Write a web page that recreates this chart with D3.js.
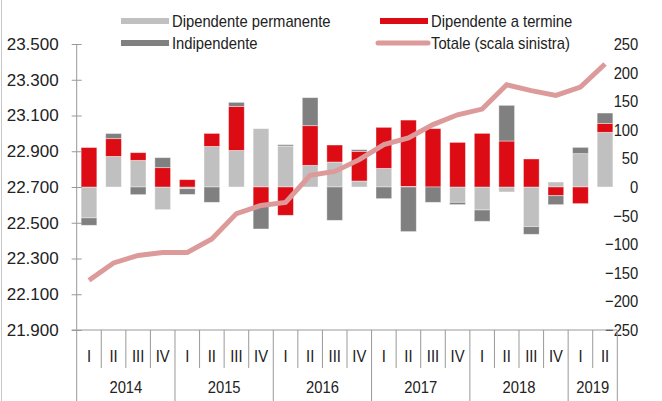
<!DOCTYPE html>
<html>
<head>
<meta charset="utf-8">
<script src="https://cdn.jsdelivr.net/npm/d3@7"></script>
<style>
  body { margin: 0; background: #fff; }
  svg text { font-family: "Liberation Sans", Arial, sans-serif; font-size: 17px; fill: #222; }
</style>
</head>
<body>
<svg class="figure" width="662" height="401"></svg>
<script>
// quarters 2014 I .. 2019 II
var quarters = ["I","II","III","IV","I","II","III","IV","I","II","III","IV","I","II","III","IV","I","II","III","IV","I","II"];
var years = ["2014","2015","2016","2017","2018","2019"];
var yearQuarters = [4, 4, 4, 4, 4, 2];

// contributions, right scale (thousands)
var permanente = [-54, 53.5, 46.6, -39.6, -3, 71, 64, 102, 71.7, 37.9, 43.7, 10.5, 32.6, 1, 0, -26.8, -40.2, -8.7, -69.3, 8.7, 58.3, 95.6];
var termine    = [69, 31, 13.4, 33.8, 12.8, 22.7, 77, -33.8, -49.5, 69.3, 29.7, 51.9, 71.7, 116, 102, 78, 93.8, 80.4, 49, -15.2, -29.1, 15.7];
var indipendente = [-13, 9, -13.4, 17.5, -10, -26.8, 7, -39.6, 2.3, 49, -58.3, 2.9, -20.4, -78, -26.8, -4, -19.8, 62.4, -13.4, -15.7, 11, 18];

// total, left scale
var totale = [22178, 22275, 22317, 22334, 22334, 22409, 22551, 22597, 22614, 22765, 22787, 22853, 22937, 22974, 23049, 23104, 23136, 23272, 23239, 23212, 23259, 23388];

var leftTicks = [21900, 22100, 22300, 22500, 22700, 22900, 23100, 23300, 23500];
var rightTicks = [-250, -200, -150, -100, -50, 0, 50, 100, 150, 200, 250];

var seriesKeys = ["perm", "term", "indip"];
var seriesNames = {perm: "Dipendente permanente", term: "Dipendente a termine", indip: "Indipendente"};
var colors = {perm: "#c0c0c0", term: "#dc0b14", indip: "#808080"};
var lineColor = "#dd9a9a";

var svg = d3.select("svg.figure");
var plotLeft = 76.7, plotRight = 617.3, plotTop = 44, plotBottom = 330;

// narrow the glyphs horizontally, keeping the anchor point in place
function narrow(sel, k) {
  sel.each(function() {
    var t = d3.select(this);
    var tx = +t.attr("x") || 0, ty = +t.attr("y") || 0;
    t.attr("x", 0).attr("y", 0)
      .attr("transform", "translate(" + tx + "," + ty + ") scale(" + (k || 0.87) + ",1)");
  });
}

var rows = quarters.map(function(q, i) {
  return {i: i, perm: permanente[i], term: termine[i], indip: indipendente[i]};
});

var x = d3.scaleBand()
  .domain(d3.range(quarters.length))
  .range([plotLeft, plotRight])
  .paddingInner(0.36)
  .paddingOuter(0.18);

var yR = d3.scaleLinear().domain([-250, 250]).range([plotBottom, plotTop]);
var yL = d3.scaleLinear().domain([21900, 23500]).range([plotBottom, plotTop]);

// frame line at the left edge
svg.append("line")
  .attr("x1", 1.5).attr("x2", 1.5)
  .attr("y1", 0).attr("y2", 401)
  .attr("stroke", "#c8c8c8");

// bars
var stacked = d3.stack().keys(seriesKeys).offset(d3.stackOffsetDiverging)(rows);

svg.append("g").selectAll("g")
  .data(stacked)
  .enter().append("g")
  .attr("fill", function(d) { return colors[d.key]; })
  .selectAll("rect")
  .data(function(d) { return d; })
  .enter().append("rect")
  .attr("x", function(d) { return x(d.data.i); })
  .attr("width", x.bandwidth())
  .attr("y", function(d) { return yR(Math.max(d[0], d[1])); })
  .attr("height", function(d) { return Math.abs(yR(d[0]) - yR(d[1])); })
  .attr("stroke", "#ffffff")
  .attr("stroke-opacity", 0.5)
  .attr("stroke-width", 0.8);

// left axis
var itFormat = d3.formatLocale({decimal: ",", thousands: ".", grouping: [3], currency: ["", "€"]}).format(",");

var leftAxis = svg.append("g")
  .attr("transform", "translate(" + plotLeft + ",0)")
  .call(d3.axisLeft(yL).tickValues(leftTicks).tickSize(5).tickPadding(13).tickFormat(itFormat));

leftAxis.select(".domain").attr("stroke", "#999").attr("d", "M0," + plotTop + "V" + plotBottom);
leftAxis.selectAll(".tick line").attr("stroke", "#999").attr("x1", 5);
leftAxis.selectAll("text").attr("font-size", null).attr("font-family", null).call(narrow, 1);

// right axis, labels only
var rightAxis = svg.append("g")
  .attr("transform", "translate(" + plotRight + ",0)")
  .call(d3.axisRight(yR).tickValues(rightTicks).tickSize(0).tickFormat(d3.format("d")));

rightAxis.select(".domain").remove();
rightAxis.selectAll("text")
  .attr("font-size", null).attr("font-family", null)
  .attr("text-anchor", "end")
  .attr("x", 21)
  .call(narrow);

// total line
var line = d3.line()
  .x(function(d, i) { return x(i) + x.bandwidth() / 2; })
  .y(function(d) { return yL(d); });

svg.append("path")
  .datum(totale)
  .attr("d", line)
  .attr("fill", "none")
  .attr("stroke", lineColor)
  .attr("stroke-width", 5);

// category axis
var catAxis = svg.append("g");
catAxis.append("line")
  .attr("x1", plotLeft - 5).attr("x2", plotRight)
  .attr("y1", plotBottom).attr("y2", plotBottom)
  .attr("stroke", "#999");

var yearStarts = [0];
yearQuarters.forEach(function(n, k) { yearStarts.push(yearStarts[k] + n); });

d3.range(quarters.length + 1).forEach(function(i) {
  var xx = plotLeft + i * x.step();
  var isYear = yearStarts.indexOf(i) >= 0;
  catAxis.append("line")
    .attr("x1", xx).attr("x2", xx)
    .attr("y1", plotBottom).attr("y2", isYear ? 401 : 368)
    .attr("stroke", "#999");
});

catAxis.selectAll("text.q")
  .data(quarters)
  .enter().append("text")
  .attr("class", "q")
  .attr("x", function(d, i) { return x(i) + x.bandwidth() / 2; })
  .attr("y", 356)
  .attr("dy", "0.35em")
  .attr("text-anchor", "middle")
  .text(function(d) { return d; })
  .call(narrow);

catAxis.selectAll("text.yr")
  .data(years)
  .enter().append("text")
  .attr("class", "yr")
  .attr("x", function(d, k) { return plotLeft + (yearStarts[k] + yearQuarters[k] / 2) * x.step(); })
  .attr("y", 387)
  .attr("dy", "0.35em")
  .attr("text-anchor", "middle")
  .text(function(d) { return d; })
  .call(narrow);

// legend
var legendItems = [
  {key: "perm", x: 121, y: 21, type: "rect"},
  {key: "term", x: 380, y: 21, type: "rect"},
  {key: "indip", x: 121, y: 43, type: "rect"},
  {key: "tot", x: 378, y: 43, type: "line"}
];

var legend = svg.append("g");
legendItems.forEach(function(it) {
  if (it.type === "rect") {
    legend.append("rect")
      .attr("x", it.x).attr("y", it.y - 3)
      .attr("width", 48).attr("height", 6)
      .attr("fill", colors[it.key]);
  } else {
    legend.append("line")
      .attr("x1", it.x).attr("x2", it.x + 50)
      .attr("y1", it.y).attr("y2", it.y)
      .attr("stroke", lineColor)
      .attr("stroke-width", 5)
      .attr("stroke-linecap", "round");
  }
  legend.append("text")
    .attr("x", it.x + (it.type === "rect" ? 51 : 53))
    .attr("y", it.y)
    .attr("dy", "0.35em")
    .text(it.key === "tot" ? "Totale (scala sinistra)" : seriesNames[it.key])
    .call(narrow);
});
</script>
</body>
</html>
